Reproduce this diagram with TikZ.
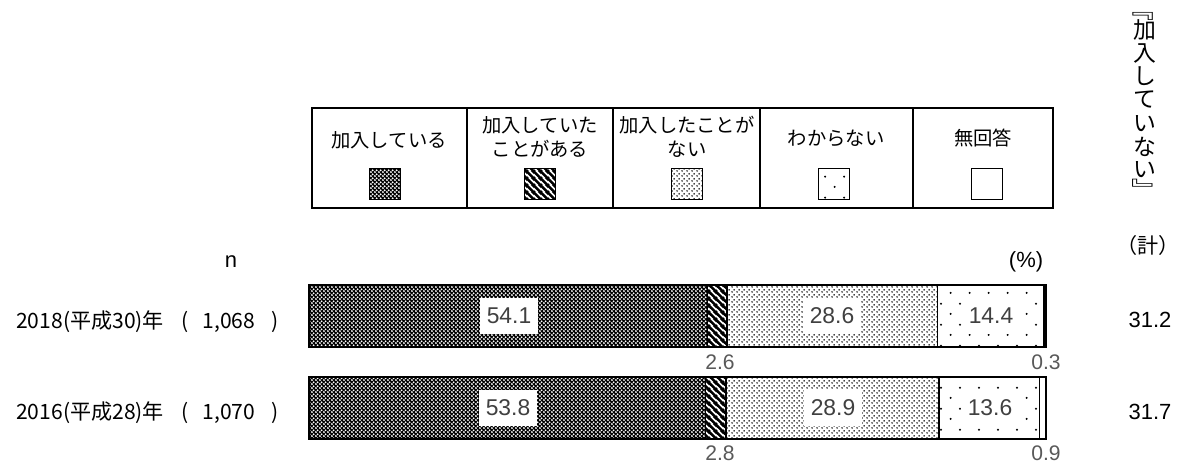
\documentclass[tikz,border=0pt]{standalone}
\usepackage{fontspec}
\setmainfont{Liberation Sans}
\newfontfamily\jpf{Noto Sans CJK JP}
\usetikzlibrary{patterns}
\pgfdeclarepatternformonly{chkdots}{\pgfqpoint{0pt}{0pt}}{\pgfqpoint{2.4pt}{2.4pt}}{\pgfqpoint{2.4pt}{2.4pt}}{%
	\pgfpathcircle{\pgfqpoint{0.6pt}{0.6pt}}{0.68pt}
	\pgfpathcircle{\pgfqpoint{1.8pt}{1.8pt}}{0.68pt}
	\pgfusepath{fill}}
\pgfdeclarepatternformonly{hatch}{\pgfqpoint{0pt}{0pt}}{\pgfqpoint{4pt}{4pt}}{\pgfqpoint{4pt}{4pt}}{%
	\pgfsetlinewidth{1.6pt}
	\pgfpathmoveto{\pgfqpoint{-0.5pt}{4.5pt}}\pgfpathlineto{\pgfqpoint{4.5pt}{-0.5pt}}
	\pgfpathmoveto{\pgfqpoint{-1pt}{1pt}}\pgfpathlineto{\pgfqpoint{1pt}{-1pt}}
	\pgfpathmoveto{\pgfqpoint{3pt}{5pt}}\pgfpathlineto{\pgfqpoint{5pt}{3pt}}
	\pgfusepath{stroke}}
\pgfdeclarepatternformonly{finedots}{\pgfqpoint{0pt}{0pt}}{\pgfqpoint{2.6pt}{2.6pt}}{\pgfqpoint{2.6pt}{2.6pt}}{%
	\pgfpathcircle{\pgfqpoint{0.65pt}{0.65pt}}{0.52pt}
	\pgfpathcircle{\pgfqpoint{1.95pt}{1.95pt}}{0.52pt}
	\pgfusepath{fill}}
\pgfdeclarepatternformonly{sparsedots}{\pgfqpoint{0pt}{0pt}}{\pgfqpoint{11pt}{12pt}}{\pgfqpoint{11pt}{12pt}}{%
	\pgfpathcircle{\pgfqpoint{2.75pt}{3pt}}{0.65pt}
	\pgfpathcircle{\pgfqpoint{8.25pt}{9pt}}{0.65pt}
	\pgfusepath{fill}}
\tikzset{
	seg/.style={draw=black, line width=0.8pt},
	joined/.style={seg, preaction={fill=black}, pattern=chkdots, pattern color=white},
	wasin/.style={seg, pattern=hatch},
	never/.style={seg, pattern=finedots},
	unknown/.style={seg, pattern=sparsedots},
	noans/.style={seg, fill=white},
	jp/.style={font=\jpf\fontsize{11}{14}\selectfont},
	yr/.style={font=\jpf\fontsize{12}{14}\selectfont, anchor=west},
	val/.style={fill=white, inner xsep=4pt, inner ysep=0pt, minimum height=21pt, text=black!75, font=\fontsize{13}{15}\selectfont},
	small/.style={text=black!65, font=\fontsize{12}{14}\selectfont},
	num/.style={font=\fontsize{12.5}{15}\selectfont},
	vert/.style={font=\jpf\fontsize{13}{15}\selectfont, inner sep=0pt},
	swatch/.style={minimum size=17.5pt, inner sep=0pt}
}
\begin{document}
\begin{tikzpicture}[x=0.02cm,y=-0.02cm]
	\useasboundingbox (0,0) rectangle (1179,466);
	\draw[line width=1.1pt] (312,108) rectangle (1053,208);
	\foreach \x in {467,613,760,913} \draw[line width=1.1pt] (\x,108) -- (\x,208);
	\node[jp] (lt-1) at (389,140) {加入している};
	\node[jp, align=center] (lt-2) at (540,137) {加入していた\\ことがある};
	\node[jp, align=center] (lt-3) at (687,137) {加入したことが\\ない};
	\node[jp] (lt-4) at (836,138) {わからない};
	\node[jp] (lt-5) at (983,138) {無回答};
	\node[swatch, joined] (sw-1) at (385,184) {};
	\node[swatch, wasin] (sw-2) at (540,184) {};
	\node[swatch, never] (sw-3) at (687,184) {};
	\node[swatch, unknown] (sw-4) at (834,184) {};
	\node[swatch, noans] (sw-5) at (987,184) {};
	\foreach \y/\a/\b/\c/\d/\e in {285/707.7/726.9/937.7/1043.8/black, 377/705.5/726.1/939.1/1039.3/white}
	{
		\draw[joined] (309,\y) rectangle (\a,\y+62);
		\draw[wasin] (\a,\y) rectangle (\b,\y+62);
		\draw[never] (\b,\y) rectangle (\c,\y+62);
		\draw[unknown] (\c,\y) rectangle (\d,\y+62);
		\draw[seg, fill=\e] (\d,\y) rectangle (1046,\y+62);
	}
	\node[val] (v-1-1) at (509,316) {54.1};
	\node[val] (v-1-3) at (832,316) {28.6};
	\node[val] (v-1-4) at (991,316) {14.4};
	\node[val] (v-2-1) at (508,408) {53.8};
	\node[val] (v-2-3) at (833,408) {28.9};
	\node[val] (v-2-4) at (990,408) {13.6};
	\node[small] (s-1-2) at (720,362) {2.6};
	\node[small] (s-1-5) at (1046,362) {0.3};
	\node[small] (s-2-2) at (720,453) {2.8};
	\node[small] (s-2-5) at (1046,453) {0.9};
	\node[yr] (y-1) at (10,322) {2018(平成30)年\hspace{10pt}(\hspace{8pt}1,068\hspace{9pt})};
	\node[yr] (y-2) at (10,413) {2016(平成28)年\hspace{10pt}(\hspace{8pt}1,070\hspace{9pt})};
	\node[num] (n) at (231,262) {n};
	\node[num] (pct) at (1026,262) {(\%)};
	\node[num] (t-1) at (1150,320) {31.2};
	\node[num] (t-2) at (1150,412) {31.7};
	\node[jp, font=\jpf\fontsize{12}{14}\selectfont] (kei) at (1148,245) {（計）};
	\node[vert] (vt-0) at (1139,16) {\scalebox{1.35}[1]{﹃}};
	\foreach \c [count=\i] in {加,入,し,て,い,な,い}
		\node[vert] (vt-\i) at (1145,{30+23.33*(\i-1)}) {\c};
	\node[vert] (vt-8) at (1147,189) {\scalebox{1.35}[1]{﹄}};
\end{tikzpicture}
\end{document}
